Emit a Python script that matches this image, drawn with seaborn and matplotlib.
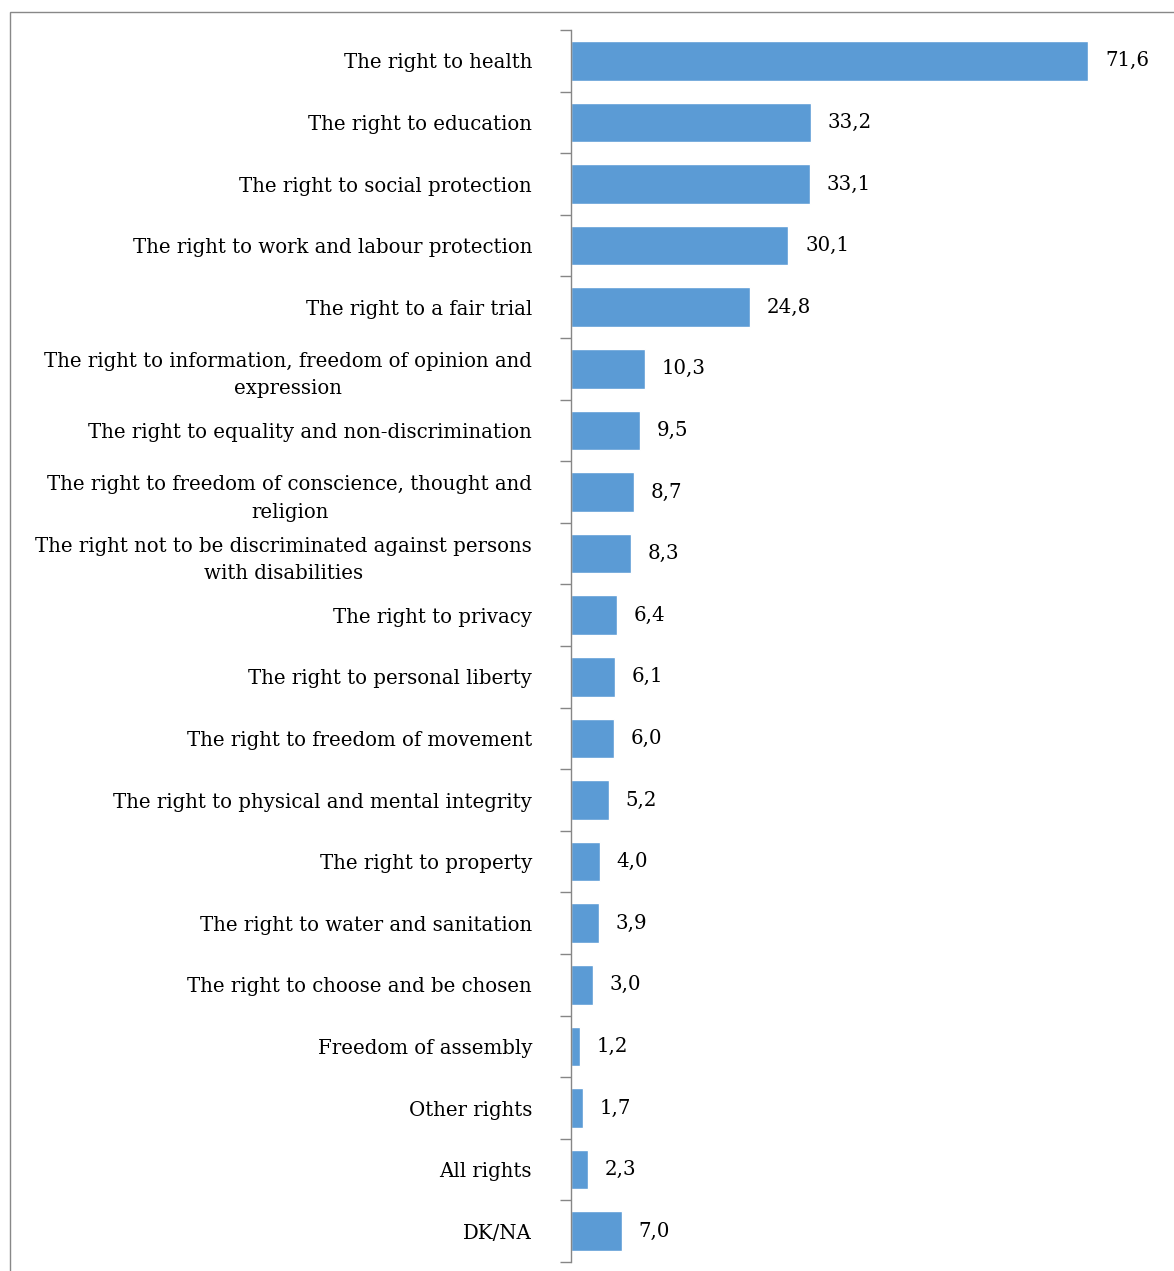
import matplotlib.pyplot as plt
import seaborn as sns
import pandas as pd
from matplotlib.patches import Rectangle

rights = [
    "The right to health",
    "The right to education",
    "The right to social protection",
    "The right to work and labour protection",
    "The right to a fair trial",
    "The right to information, freedom of opinion and\nexpression",
    "The right to equality and non-discrimination",
    "The right to freedom of conscience, thought and\nreligion",
    "The right not to be discriminated against persons\nwith disabilities",
    "The right to privacy",
    "The right to personal liberty",
    "The right to freedom of movement",
    "The right to physical and mental integrity",
    "The right to property",
    "The right to water and sanitation",
    "The right to choose and be chosen",
    "Freedom of assembly",
    "Other rights",
    "All rights",
    "DK/NA",
]
shares = [71.6, 33.2, 33.1, 30.1, 24.8, 10.3, 9.5, 8.7, 8.3, 6.4,
          6.1, 6.0, 5.2, 4.0, 3.9, 3.0, 1.2, 1.7, 2.3, 7.0]

df = pd.DataFrame({"right": rights, "share": shares})

sns.set_style("white")
plt.rcParams["font.family"] = ["DejaVu Serif"]
plt.rcParams["text.color"] = "black"
plt.rcParams["ytick.color"] = "black"

W, H = 1174, 1271
fig = plt.figure(figsize=(W / 100, H / 100), dpi=100)
ax = fig.add_axes([571 / W, 9 / H, 578 / W, 1232 / H])

sns.barplot(data=df, x="share", y="right", orient="h", color="#5B9BD5",
            saturation=1, width=0.64, ax=ax)

ax.set_xlim(0, 80)
ax.set_ylim(19.5, -0.5)
ax.set_xlabel("")
ax.set_ylabel("")
ax.set_xticks([])

# ticks between categories, labels at category centres
n = len(rights)
ax.set_yticks([i - 0.5 for i in range(n + 1)])
ax.set_yticklabels([])
ax.set_yticks(range(n), minor=True)
ax.set_yticklabels(rights, minor=True, fontsize=14.2, color="black")
for t in ax.get_yticklabels(minor=True):
    t.set_multialignment("center")
    t.set_linespacing(1.58)
ax.tick_params(axis="y", which="major", left=True, length=8, color="#868686",
               direction="out", width=1)
ax.tick_params(axis="y", which="minor", left=True, length=0, pad=28)

for s in ["top", "right", "bottom"]:
    ax.spines[s].set_visible(False)
ax.spines["left"].set_color("#868686")
ax.spines["left"].set_linewidth(1)

ax.bar_label(ax.containers[0], labels=[f"{v:.1f}".replace(".", ",") for v in shares],
             padding=12, fontsize=14.2, color="black")

# chart frame
fig.add_artist(Rectangle((9.5 / W, -0.1), 1.2, 1.1 - 12.5 / H, fill=False,
                         edgecolor="#888888", linewidth=1,
                         transform=fig.transFigure, clip_on=False))

fig.savefig("out.png", dpi=100)
